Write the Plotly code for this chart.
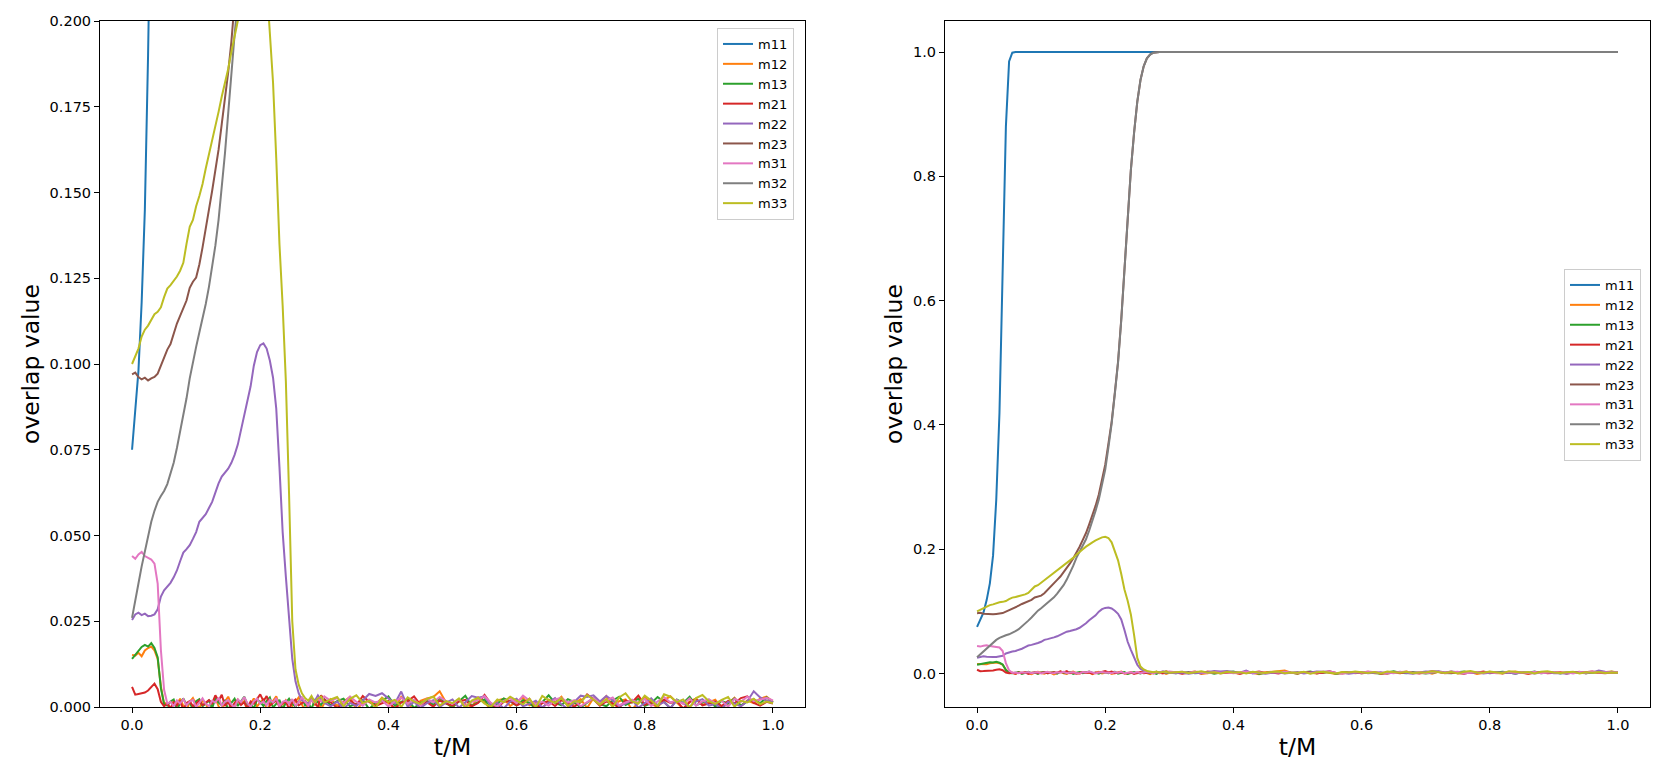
import numpy as np
import plotly.graph_objects as go

# sample times: 0.005 steps through the transient, 0.01 steps after t/M = 0.3
t_head = np.arange(61) * 0.005
t_tail = 0.31 + np.arange(70) * 0.01
t = np.round(np.concatenate([t_head, t_tail]), 3)

names = ["m11", "m12", "m13", "m21", "m22", "m23", "m31", "m32", "m33"]
colors = ["#1f77b4", "#ff7f0e", "#2ca02c", "#d62728", "#9467bd",
          "#8c564b", "#e377c2", "#7f7f7f", "#bcbd22"]

# --- large overlaps (natural units) ---
m11 = [0.075, 0.086, 0.098, 0.118, 0.145, 0.19, 0.28, 0.42, 0.64, 0.88,
       0.985, 0.999] + [1.0] * 119

m23 = [0.0970, 0.0975, 0.0962, 0.0955, 0.0960, 0.0952, 0.0958, 0.0962, 0.0972, 0.0995,
       0.1018, 0.1042, 0.1058, 0.1090, 0.1118, 0.1140, 0.1162, 0.1185, 0.1222, 0.1240,
       0.1252, 0.1290, 0.1340, 0.1390, 0.1450, 0.1505, 0.1560, 0.1625, 0.1700, 0.1770,
       0.1850, 0.1940, 0.2040, 0.2150, 0.2260, 0.2400, 0.2540, 0.2700, 0.2880, 0.3100,
       0.3360, 0.3700, 0.4050, 0.4520, 0.5020, 0.5700, 0.6500, 0.7200, 0.8100, 0.8700,
       0.9200, 0.9550, 0.9770, 0.9900, 0.9960, 0.9990, 1.0, 1.0, 1.0, 1.0,
       1.0] + [1.0] * 70

m32 = [0.0260, 0.0305, 0.0360, 0.0410, 0.0452, 0.0495, 0.0540, 0.0572, 0.0598, 0.0615,
       0.0630, 0.0650, 0.0680, 0.0712, 0.0755, 0.0800, 0.0850, 0.0900, 0.0958, 0.1010,
       0.1050, 0.1092, 0.1130, 0.1175, 0.1225, 0.1285, 0.1345, 0.1420, 0.1510, 0.1615,
       0.1730, 0.1860, 0.1960, 0.2060, 0.2160, 0.2300, 0.2450, 0.2620, 0.2800, 0.3020,
       0.3280, 0.3640, 0.4020, 0.4500, 0.5000, 0.5680, 0.6480, 0.7200, 0.8100, 0.8700,
       0.9200, 0.9550, 0.9770, 0.9900, 0.9960, 0.9990, 1.0, 1.0, 1.0, 1.0,
       1.0] + [1.0] * 70

# --- small overlaps, in units of 1e-3 ---
m12_start = [15.2, 15.0, 15.8, 14.8, 16.5, 17.2, 17.6, 16.5, 14.0, 6.0, 1.0]
m12_noise = [1.2, -0.6, 1.8, 0.9, 2.4, 0.3, -1.1, 1.5, 2.6, 0.7,
             -0.4, 1.9, 1.1, -1.5, 0.8, 2.7, 0.2, -0.9, 1.6, 3.0,
             0.6, -0.3, 2.1, 1.0, 1.7, -1.2, 0.9, 2.5, 0.1, 1.4,
             2.2, -0.7, 0.5, 1.8, 3.1, 0.4, -0.5, 2.0, 1.2, 0.3,
             1.6, 2.8, 0.7, -1.0, 1.3, 2.4, 0.5, 1.9, -0.6, 1.1,
             2.3, 0.4, 1.6, 2.9, -0.8, 1.2, 2.0, 0.6, 2.7, 1.1,
             -0.5, 3.0, 1.4, -1.2, 1.8, 2.5, 2.9, 4.6, 1.3, -0.4,
             2.2, 0.8, 0.1, 2.8, 1.5, -0.9, 1.9, 2.4, 0.3, 1.6,
             2.7, 0.5, 1.2, -0.6, 2.1, 1.4, 3.0, 0.2, 1.0, 2.3,
             -0.3, 2.6, 1.1, 3.2, 0.4, 1.7, 2.2, -0.8, 1.3, 2.8,
             0.9, 0.0, 2.0, 3.1, 1.2, -0.5, 1.6, 2.5, 0.6, 1.4,
             2.1, -0.2, 1.0, 2.7, 0.3, 1.9, 1.1, 2.4, 3.0, 1.5]

m13_start = [14.0, 15.2, 16.2, 17.5, 18.1, 17.6, 18.6, 17.2, 14.5, 5.5, 0.8]
m13_noise = [0.4, 1.6, 2.2, -0.6, 1.1, 2.5, 0.6, 1.4, -0.8, 1.7,
             2.3, 0.2, 1.0, 1.9, -0.4, 2.6, 1.3, 0.5, 2.0, -0.9,
             1.2, 2.4, 0.3, 1.6, 3.0, 0.7, 1.1, -0.5, 2.2, 1.5,
             0.3, 1.8, 2.8, -0.2, 1.0, 2.1, -0.7, 1.3, 2.4, 0.9,
             0.1, 1.7, 2.9, 0.5, 1.2, -0.6, 2.0, 1.4, 0.6, 2.3,
             0.5, 1.7, 2.4, 0.2, 1.0, 2.1, -0.6, 1.3, 1.8, 3.1,
             0.4, 1.5, 2.3, -0.3, 1.2, 1.9, 0.6, 2.6, 1.1, 0.0,
             1.8, 3.3, 0.3, 1.4, 2.2, -0.5, 1.0, 2.5, 1.6, 0.4,
             2.0, 1.2, -0.6, 1.5, 3.4, 1.2, 0.5, 2.3, 1.4, -0.2,
             1.3, 2.7, 0.9, 0.2, 1.9, 3.0, 0.6, 1.6, 2.4, 0.3,
             1.1, 2.9, 1.5, -0.4, 2.2, 1.2, 3.0, 0.5, 1.4, 2.1,
             0.1, 1.8, 1.0, 2.5, 0.4, 1.6, 2.2, 1.1, 2.8, 1.4]

m21_start = [5.9, 3.6, 3.8, 4.0, 4.2, 4.8, 5.8, 6.8, 5.2, 1.5, 0.2]
m21_noise = [1.0, -0.4, 1.4, 0.4, 1.8, -0.8, 1.2, 1.7, 0.2, 1.0,
             1.9, 0.5, 1.3, 2.0, 1.1, 3.4, 1.8, 3.6, 0.3, 1.5,
             -0.5, 1.2, 2.1, 0.6, 1.4, -0.3, 1.6, 1.0, 2.3, 3.7,
             1.7, 3.2, 0.4, 1.3, 1.9, 0.1, 1.1, 1.6, -0.6, 1.4,
             2.2, 0.5, 1.0, 1.7, 0.2, 2.5, 1.2, 0.0, 3.4, 2.0,
             1.4, -0.3, 1.2, 2.0, 0.5, 3.2, 1.5, 0.3, 1.1, 1.8,
             -0.6, 1.3, 1.7, 3.1, 0.6, 1.4, 0.1, 1.9, 1.0, 0.4,
             1.6, 2.1, 0.2, 1.2, 3.5, 0.9, -0.2, 1.5, 1.8, 0.5,
             1.3, 2.4, -0.4, 1.1, 1.7, 0.3, 2.0, 1.0, 0.1, 1.4,
             3.7, 2.2, 0.4, 1.6, 1.1, -0.3, 1.9, 1.3, 3.3, 0.6,
             1.5, 0.2, 2.1, 1.2, 1.7, -0.5, 1.4, 2.3, 0.5, 1.0,
             1.6, 0.3, 1.8, 1.1, 2.6, 3.1, 1.2, 0.4, 1.5, 1.0]

m22_start = [25.4, 27.0, 27.5, 26.8, 27.2, 26.5, 26.6, 27.0, 28.5, 32.2,
             34.0, 35.2, 36.2, 37.8, 39.8, 42.5, 45.0, 46.0, 47.2, 49.0,
             51.0, 54.0, 55.2, 56.2, 58.0, 59.8, 62.5, 65.2, 67.2, 68.4,
             69.5, 71.2, 73.5, 76.5, 80.8, 85.5, 89.2, 93.5, 99.5, 103.5,
             105.5, 106.0, 104.5, 101.0, 96.0, 87.0, 70.0, 51.0, 38.0, 26.5,
             14.0, 7.5, 4.0, 2.0]
m22_noise = [1.6, 0.9, 2.8, 1.7, 3.4, 2.1, 1.2,
             0.2, 1.6, -0.5, 1.2, 0.3, 1.9, 3.8, 3.2, 4.0, 2.5,
             1.0, 4.5, 0.1, 1.5, -0.3, 1.1, 2.0, 0.0, 1.3, 2.2,
             -0.2, 1.4, 3.2, 2.7, 3.1, 0.4, 1.2, -0.4, 1.6, 2.4,
             0.2, 0.9, 1.8, -0.1, 1.3, 2.6, 0.8, -0.6, 1.5, 3.3,
             2.9, 3.4, 1.6, 3.2, 1.9, 0.3, 1.0, 2.1, -0.2, 1.2,
             2.5, 0.5, 1.4, -0.3, 1.9, 1.1, 0.1, 1.6, 2.3, 0.4,
             0.9, -0.5, 1.5, 1.0, 0.2, 1.7, 4.6, 2.8, 1.9, 1.3]

m31_start = [44.0, 43.2, 44.5, 45.2, 44.0, 43.6, 43.0, 41.8, 36.0, 16.6, 5.0, 1.0]
m31_noise = [1.5, 0.2, 1.9, 1.0, 2.3, 0.5, 1.6, 2.1, 0.0, 1.2,
             2.5, 0.9, 0.3, 1.8, 1.3, 2.7, 0.4, 1.5, 2.0, 0.8,
             -0.2, 2.2, 1.4, 2.9, 1.1, 0.1, 1.7, 2.4, 1.0, 1.6,
             0.5, 2.1, 1.3, 2.6, 0.2, 1.5, 1.9, 0.9, 2.3, 0.4,
             1.4, 2.8, 1.7, 0.3, 2.0, 1.2, 2.5, 1.6, 3.1,
             1.8, 2.6, 1.1, 3.0, 1.5, 0.4, 2.2, 1.3, 1.9, 0.2,
             1.6, 2.7, 1.0, 2.1, 0.5, 2.4, 1.4, 2.9, 1.7, 0.9,
             2.3, 0.3, 1.5, 2.0, 3.2, 1.2, 0.1, 1.8, 2.5, 1.1,
             3.3, 1.9, 0.8, 1.6, 0.4, 2.2, 2.7, 1.3, 2.0, 0.2,
             1.5, 2.6, 1.0, 1.8, 2.8, 0.5, 1.4, 2.1, 1.2, 2.3,
             0.3, 1.7, 2.9, 1.3, 2.0, 0.9, 2.5, 0.4, 1.6, 2.2,
             1.1, 1.8, 0.1, 2.4, 1.5, 3.0, 1.7, 2.1, 2.7, 1.9]

m33_start = [100.0, 102.5, 104.5, 108.0, 110.0, 111.2, 113.0, 114.5, 115.2, 116.5,
             119.5, 122.0, 123.0, 124.2, 125.5, 127.2, 129.5, 135.0, 140.0, 142.0,
             146.0, 149.0, 152.5, 157.0, 161.0, 165.0, 169.0, 173.5, 178.0, 182.0,
             186.0, 191.0, 196.0, 200.0, 204.0, 208.0, 211.0, 214.0, 217.0, 219.0,
             220.0, 218.0, 211.0, 198.0, 182.0, 160.0, 135.0, 117.0, 95.0, 62.0,
             25.0, 11.0, 6.5, 4.0]
m33_noise = [2.6, 1.8, 3.2, 1.4, 2.5, 3.0, 1.3,
             2.2, 2.9, 0.2, 2.4, 3.4, 1.2, 1.8, -0.2, 2.6, 1.5,
             2.1, 0.0, 2.8, 1.6, 0.9, 2.3, 3.1, 0.4, 1.7, 1.1,
             2.5, -0.3, 1.9, 2.7, 1.0, 0.1, 2.2, 1.4, 3.0, 1.8,
             0.8, 2.4, -0.1, 3.2, 2.0, 1.2, 2.6, 0.3, 1.7, 1.5,
             3.5, 2.1, 0.7, 2.3, 0.0, 2.8, 4.0, 1.6, 1.0, 3.3,
             1.9, 0.2, 3.7, 3.0, 1.4, 2.2, -0.2, 2.6, 3.5, 1.7,
             0.9, 2.1, 2.9, 0.1, 1.8, 1.3, 2.4, 0.8, 1.6, 1.1]


def milli(start, noise):
    return [v / 1000 for v in start + noise]


series = [m11,
          milli(m12_start, m12_noise),
          milli(m13_start, m13_noise),
          milli(m21_start, m21_noise),
          milli(m22_start, m22_noise),
          m23,
          milli(m31_start, m31_noise),
          m32,
          milli(m33_start, m33_noise)]
for n, s in zip(names, series):
    assert len(s) == len(t), (n, len(s))

FONT = "DejaVu Sans"
fig = go.Figure()

for xa, ya, lg in [("x", "y", "legend"), ("x2", "y2", "legend2")]:
    for name, col, vals in zip(names, colors, series):
        fig.add_trace(go.Scatter(x=t, y=vals, mode="lines", name=name,
                                 line=dict(color=col, width=2),
                                 xaxis=xa, yaxis=ya, legend=lg))


def axis_style(**kw):
    d = dict(showline=True, mirror=True, linecolor="black", linewidth=1,
             ticks="outside", ticklen=5, tickwidth=1, tickcolor="black",
             showgrid=False, zeroline=False, automargin=False,
             tickfont=dict(family=FONT, size=14.5, color="black"))
    d.update(kw)
    return d


# the page body adds an 8px margin, so the figure is 16px smaller than the window
PAD = 8
W, H = 1674 - 2 * PAD, 775 - 2 * PAD


def px_x(p):
    return (p - PAD) / W


def px_y(p):
    return 1 - (p - PAD) / H


xdom1 = [px_x(100), px_x(805)]
xdom2 = [px_x(945), px_x(1650)]
ydom = [px_y(707), px_y(21)]
title_font = dict(family=FONT, size=23.5, color="black")
xticks = [0, 0.2, 0.4, 0.6, 0.8, 1.0]

legend_style = dict(font=dict(family=FONT, size=13, color="black"),
                    bgcolor="rgba(255,255,255,0.8)", bordercolor="#cccccc",
                    borderwidth=1, xanchor="right", tracegroupgap=0)

fig.update_layout(
    width=W, height=H,
    margin=dict(l=0, r=0, t=0, b=0),
    paper_bgcolor="white", plot_bgcolor="white",
    showlegend=True,
    xaxis=axis_style(domain=xdom1, anchor="y", range=[-0.05, 1.05],
                     tickvals=xticks, tickformat=".1f",
                     title=dict(text="t/M", font=title_font, standoff=6)),
    yaxis=axis_style(domain=ydom, anchor="x", range=[0, 0.2], dtick=0.025,
                     tickformat=".3f",
                     title=dict(text="overlap value", font=title_font, standoff=3)),
    xaxis2=axis_style(domain=xdom2, anchor="y2", range=[-0.05, 1.05],
                      tickvals=xticks, tickformat=".1f",
                      title=dict(text="t/M", font=title_font, standoff=6)),
    yaxis2=axis_style(domain=ydom, anchor="x2", range=[-0.054, 1.050],
                      tickvals=xticks, tickformat=".1f",
                      title=dict(text="overlap value", font=title_font, standoff=3)),
    legend=dict(legend_style, x=px_x(794), y=px_y(28), yanchor="top"),
    legend2=dict(legend_style, x=px_x(1641), y=px_y(365), yanchor="middle"),
)

fig.write_html("out.html")
